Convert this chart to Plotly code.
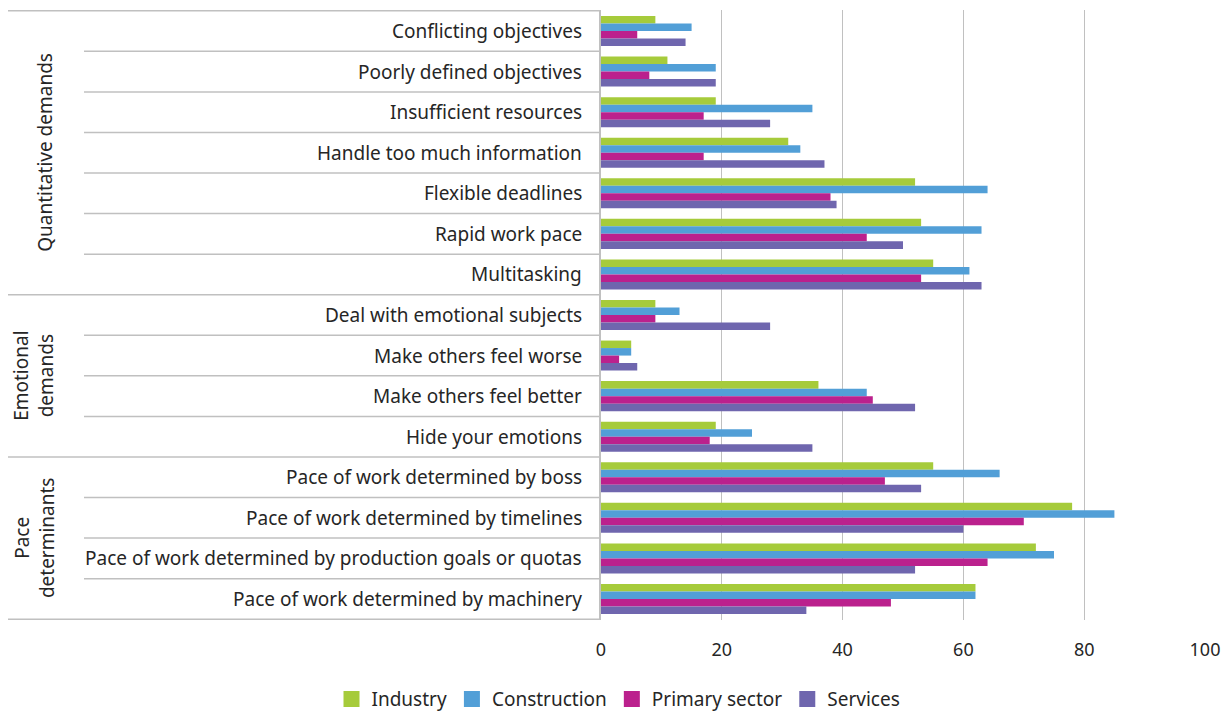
import plotly.graph_objects as go

categories = [
    "Conflicting objectives",
    "Poorly defined objectives",
    "Insufficient resources",
    "Handle too much information",
    "Flexible deadlines",
    "Rapid work pace",
    "Multitasking",
    "Deal with emotional subjects",
    "Make others feel worse",
    "Make others feel better",
    "Hide your emotions",
    "Pace of work determined by boss",
    "Pace of work determined by timelines",
    "Pace of work determined by production goals or quotas",
    "Pace of work determined by machinery",
]

industry = [9, 11, 19, 31, 52, 53, 55, 9, 5, 36, 19, 55, 78, 72, 62]
construction = [15, 19, 35, 33, 64, 63, 61, 13, 5, 44, 25, 66, 85, 75, 62]
primary_sector = [6, 8, 17, 17, 38, 44, 53, 9, 3, 45, 18, 47, 70, 64, 48]
services = [14, 19, 28, 37, 39, 50, 63, 28, 6, 52, 35, 53, 60, 52, 34]

series = [
    ("Industry", industry, "#a6cb3b"),
    ("Construction", construction, "#529fd7"),
    ("Primary sector", primary_sector, "#bb218d"),
    ("Services", services, "#6f66ae"),
]

groups = [
    ("Quantitative demands", 0, 7),
    ("Emotional<br>demands", 7, 11),
    ("Pace<br>determinants", 11, 15),
]

FONT = "Noto Sans"
TEXT = "#262626"
GRID = "#c0c0c0"

# page body has an 8px margin, so the figure starts at (8, 8)
OFF = 8
W, H = 1229 - OFF, 711 - OFF
L, R, T, B = 601 - OFF, 24, 10 - OFF, 91
pw = W - L - R


def px_to_paper(px):
    # px is a page x coordinate
    return (px - OFF - L) / pw


fig = go.Figure()
for name, vals, color in series:
    fig.add_trace(
        go.Bar(
            name=name,
            y=categories,
            x=vals,
            orientation="h",
            marker=dict(color=color, line=dict(width=0)),
            showlegend=False,
        )
    )

# legend entries with bigger square swatches
for name, vals, color in series:
    fig.add_trace(
        go.Scatter(
            name=name,
            x=[None],
            y=[None],
            mode="markers",
            marker=dict(color=color, symbol="square", size=16),
        )
    )

shapes = []
annotations = []

n = len(categories)
group_edges = {g[1] for g in groups} | {n}
for i in range(n + 1):
    x0 = px_to_paper(8) if i in group_edges else px_to_paper(84)
    shapes.append(
        dict(
            type="line", xref="paper", yref="y",
            x0=x0, x1=0, y0=i - 0.5, y1=i - 0.5,
            line=dict(color=GRID, width=1.5),
        )
    )

for i, cat in enumerate(categories):
    annotations.append(
        dict(
            x=px_to_paper(584), xref="paper", y=cat, yref="y",
            text=cat, showarrow=False, xanchor="right", yanchor="middle",
            font=dict(family=FONT, size=19, color=TEXT),
        )
    )

for label, start, end in groups:
    gx = 34 if "<br>" in label else 45
    annotations.append(
        dict(
            x=px_to_paper(gx), xref="paper", y=(start + end - 1) / 2, yref="y",
            text=label, showarrow=False, textangle=-90,
            xanchor="center", yanchor="middle",
            font=dict(family=FONT, size=19, color=TEXT),
        )
    )

fig.update_layout(
    width=W,
    height=H,
    margin=dict(l=L, r=R, t=T, b=B),
    paper_bgcolor="white",
    plot_bgcolor="white",
    barmode="group",
    bargap=0.26,
    bargroupgap=0,
    font=dict(family=FONT, size=16, color=TEXT),
    shapes=shapes,
    annotations=annotations,
    xaxis=dict(
        range=[0, 100],
        dtick=20,
        showgrid=True,
        gridcolor=GRID,
        gridwidth=1.2,
        zeroline=False,
        showline=False,
        ticks="",
        ticklabelstandoff=17,
        tickfont=dict(family=FONT, size=18, color=TEXT),
    ),
    yaxis=dict(
        autorange="reversed",
        showticklabels=False,
        showgrid=False,
        showline=True,
        linecolor=GRID,
        linewidth=1.5,
        ticks="",
    ),
    legend=dict(
        orientation="h",
        x=0.5,
        xanchor="center",
        xref="container",
        y=0.017,
        yref="container",
        yanchor="middle",
        font=dict(family=FONT, size=19, color=TEXT),
        traceorder="normal",
    ),
)

fig.write_html("out.html")
